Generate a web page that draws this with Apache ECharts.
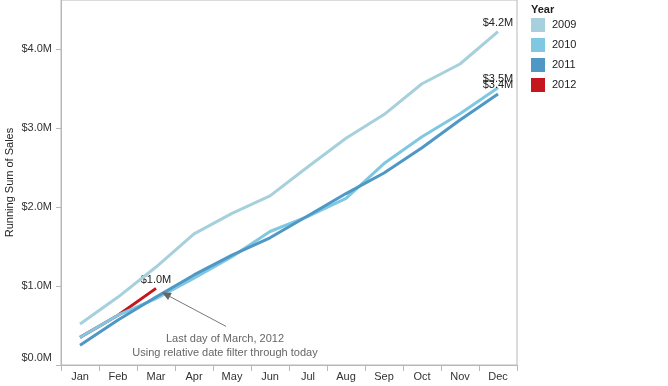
<!DOCTYPE html>
<html>
<head>
<meta charset="utf-8">
<script src="https://cdn.jsdelivr.net/npm/echarts@6/dist/echarts.min.js"></script>
<style>html,body{margin:0;padding:0;background:#fff}#c{width:668px;height:386px}</style>
</head>
<body>
<div id="c"></div>
<script>
const months = ['Jan','Feb','Mar','Apr','May','Jun','Jul','Aug','Sep','Oct','Nov','Dec'];
const years = ['2009','2010','2011','2012'];
const s2009 = [0.52,0.86,1.24,1.66,1.92,2.14,2.51,2.87,3.17,3.56,3.81,4.22];
const s2010 = [0.35,0.63,0.84,1.10,1.37,1.69,1.88,2.11,2.55,2.89,3.18,3.51];
const s2011 = [0.25,0.57,0.86,1.14,1.39,1.61,1.89,2.17,2.43,2.75,3.10,3.43];
const s2012 = [0.35,0.63,0.97];
const yTicks = [0,1,2,3,4];
const colors = ['#a6d0dc','#80c8e2','#4f98c6','#c4161c'];
const annotationLines = ['Last day of March, 2012','Using relative date filter through today'];

const FONT = 'Liberation Sans, Arial, sans-serif';
function fmt(v){ return '$' + v.toFixed(1) + 'M'; }
function mkData(arr){
  return arr.map((v,i)=> i===arr.length-1 ? {value:v, label:{show:true}} : v);
}
const seriesData = [s2009,s2010,s2011,s2012];
const zOrder = [3,4,5,2];
const chart = echarts.init(document.getElementById('c'), null, {renderer:'canvas'});
chart.setOption({
  animation:false,
  color: colors,
  textStyle:{fontFamily:FONT},
  title:{text:'Year', left:531, top:4, padding:0, textStyle:{fontSize:11, fontWeight:'bold', color:'#222', fontFamily:FONT}},
  legend:{
    orient:'vertical', left:531, top:18, padding:0, icon:'rect', itemWidth:14, itemHeight:14, itemGap:6,
    data: years, textStyle:{fontSize:11, color:'#222', fontFamily:FONT, padding:[0,0,0,2]}
  },
  grid:{left:61, right:151, top:0, bottom:21, show:true, borderColor:'#b8b8b8', borderWidth:1,
    containLabel:false, outerBoundsMode:'none'},
  xAxis:{
    type:'category', data: months, boundaryGap:true,
    axisLine:{lineStyle:{color:'#b8b8b8'}},
    axisTick:{show:true, length:6, lineStyle:{color:'#b8b8b8'}},
    axisLabel:{color:'#333', fontSize:11, margin:6, fontFamily:FONT},
    splitLine:{show:false}
  },
  yAxis:{
    type:'value', min:0, max:4.62, interval:1,
    name:'Running Sum of Sales', nameLocation:'middle', nameGap:46, nameRotate:90, nameMoveOverlap:false,
    nameTextStyle:{color:'#222', fontSize:11, fontFamily:FONT},
    axisLine:{show:true, lineStyle:{color:'#b8b8b8'}},
    axisTick:{show:true, length:5, lineStyle:{color:'#b8b8b8'}},
    axisLabel:{color:'#333', fontSize:11, margin:9, showMaxLabel:false, fontFamily:FONT,
      formatter: v => v===0 ? '{z|'+fmt(v)+'}' : fmt(v),
      rich:{z:{fontSize:11, color:'#333', padding:[0,0,14,0], fontFamily:FONT}}
    },
    splitLine:{show:false}
  },
  series: seriesData.map((arr,i)=>({
    name: years[i], type:'line', data: mkData(arr),
    symbol:'circle', symbolSize:0.1, showSymbol:true,
    lineStyle:{width:3, color:colors[i]}, itemStyle:{color:colors[i]},
    label:{show:false, position:'top', distance:3, color:'#222', fontSize:11, fontFamily:FONT,
      formatter: p => fmt(p.value)},
    z: zOrder[i]
  }))
});

// annotation arrow + text
const tip = chart.convertToPixel({gridIndex:0}, ['Mar', s2012[2]]);
const tipX = tip[0] + 6, tipY = tip[1] + 4;
const tailX = tipX + 64, tailY = tipY + 34;
const ang = Math.atan2(tailY - tipY, tailX - tipX);
const ah = 9, aw = 4;
const bx = tipX + ah*Math.cos(ang), by = tipY + ah*Math.sin(ang);
chart.setOption({
  graphic:[
    {type:'line', shape:{x1:bx, y1:by, x2:tailX, y2:tailY}, style:{stroke:'#777', lineWidth:1}, z:10},
    {type:'polygon', shape:{points:[[tipX,tipY],[bx - aw*Math.sin(ang), by + aw*Math.cos(ang)],[bx + aw*Math.sin(ang), by - aw*Math.cos(ang)]]}, style:{fill:'#666'}, z:10},
    {type:'text', x: tailX - 1, y: tailY + 13, style:{text: annotationLines[0], fill:'#666', font:'11px '+FONT, align:'center', verticalAlign:'middle'}, z:10},
    {type:'text', x: tailX - 1, y: tailY + 27, style:{text: annotationLines[1], fill:'#666', font:'11px '+FONT, align:'center', verticalAlign:'middle'}, z:10}
  ]
});
</script>
</body>
</html>
